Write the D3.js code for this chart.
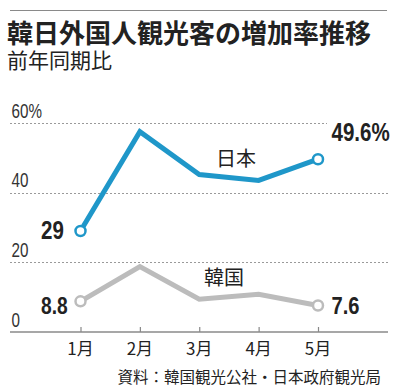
<!DOCTYPE html>
<html><head><meta charset="utf-8">
<script src="https://cdn.jsdelivr.net/npm/d3@7"></script>
<style>
html,body{margin:0;padding:0;background:#fff;}
svg{display:block;}
.cjk{font-family:"Noto Sans CJK JP","Noto Sans",sans-serif;}
.num{font-family:"Liberation Sans",Arial,sans-serif;}
</style></head>
<body>
<script>
const months = ["1月","2月","3月","4月","5月"];
const japan = [29, 57.5, 45.2, 43.5, 49.6];
const korea = [8.8, 18.8, 9.4, 10.8, 7.6];
const yTicks = [0, 20, 40, 60];
const yTickLabels = ["0", "20", "40", "60%"];
const title = "韓日外国人観光客の増加率推移";
const subtitle = "前年同期比";
const source = "資料：韓国観光公社・日本政府観光局";

const W = 400, H = 392;
const svg = d3.select("body").append("svg").attr("width", W).attr("height", H);

const x = d3.scalePoint().domain(months).range([80.5, 318]);
const y = d3.scaleLinear().domain([0, 60]).range([332, 123]);

// top rule
svg.append("line").attr("x1",10).attr("x2",387).attr("y1",10.5).attr("y2",10.5)
  .attr("stroke","#8a8a8a").attr("stroke-width",1);

svg.append("text").attr("class","cjk").attr("x",7).attr("y",43)
  .attr("font-size",26).attr("font-weight",700).attr("fill","#222").text(title);
svg.append("text").attr("class","cjk").attr("x",7).attr("y",68)
  .attr("font-size",21).attr("fill","#222").text(subtitle);

// condensed text helper
function ctext(txt, xx, yy, fs, weight, sx, fill){
  return svg.append("text").attr("class","num")
    .attr("transform",`translate(${xx},${yy}) scale(${sx},1)`)
    .attr("font-size",fs).attr("font-weight",weight).attr("fill",fill).text(txt);
}

// gridlines
yTicks.filter(d=>d>0).forEach(d=>{
  svg.append("line").attr("x1",10).attr("x2", d===60 ? 327 : 388)
    .attr("y1",Math.round(y(d))+0.5).attr("y2",Math.round(y(d))+0.5)
    .attr("stroke","#9a9a9a").attr("stroke-width",1).attr("stroke-dasharray","2,2");
});
// y labels
yTicks.forEach((d,i)=>{
  ctext(yTickLabels[i], 11.5, y(d)-5.5, 19.5, 400, 0.78, "#333");
});

// x axis
const xAxis = d3.axisBottom(x).tickSize(-5).tickPadding(0).tickFormat(()=> "");
const gx = svg.append("g").attr("transform",`translate(0,${y(0)})`).call(xAxis);
gx.select(".domain").remove();
gx.selectAll(".tick line").attr("stroke","#888").attr("stroke-width",1.2);
svg.append("line").attr("x1",10).attr("x2",388).attr("y1",y(0)).attr("y2",y(0))
  .attr("stroke","#8a8a8a").attr("stroke-width",1.5);
months.forEach(m=>{
  svg.append("text").attr("class","cjk").attr("x",x(m)).attr("y",355)
    .attr("text-anchor","middle").attr("font-size",17).attr("fill","#222").text(m);
});

const line = d3.line().x((d,i)=>x(months[i])).y(d=>y(d));
function series(data,color){
  svg.append("path").datum(data).attr("d",line).attr("fill","none")
    .attr("stroke",color).attr("stroke-width",5).attr("stroke-linejoin","miter");
  [0,data.length-1].forEach(i=>{
    svg.append("circle").attr("cx",x(months[i])).attr("cy",y(data[i])).attr("r",5)
      .attr("fill","#fff").attr("stroke",color).attr("stroke-width",2.5);
  });
}
series(korea,"#bcbcbc");
series(japan,"#1f97c9");

// value labels
ctext(String(japan[0]), 41, 238.5, 25, 700, 0.82, "#222");
ctext(japan[4]+"%", 331.5, 140.5, 26, 700, 0.79, "#222");
ctext(String(korea[0]), 41, 313.5, 24, 700, 0.8, "#222");
ctext(String(korea[4]), 331.5, 313.5, 24, 700, 0.84, "#222");

// series names
svg.append("text").attr("class","cjk").attr("x",236).attr("y",166).attr("text-anchor","middle")
  .attr("font-size",20).attr("fill","#222").text("日本");
svg.append("text").attr("class","cjk").attr("x",224).attr("y",285).attr("text-anchor","middle")
  .attr("font-size",20).attr("fill","#222").text("韓国");

svg.append("text").attr("class","cjk").attr("x",381).attr("y",383).attr("text-anchor","end")
  .attr("font-size",15.5).attr("fill","#222").text(source);
</script>
</body></html>
